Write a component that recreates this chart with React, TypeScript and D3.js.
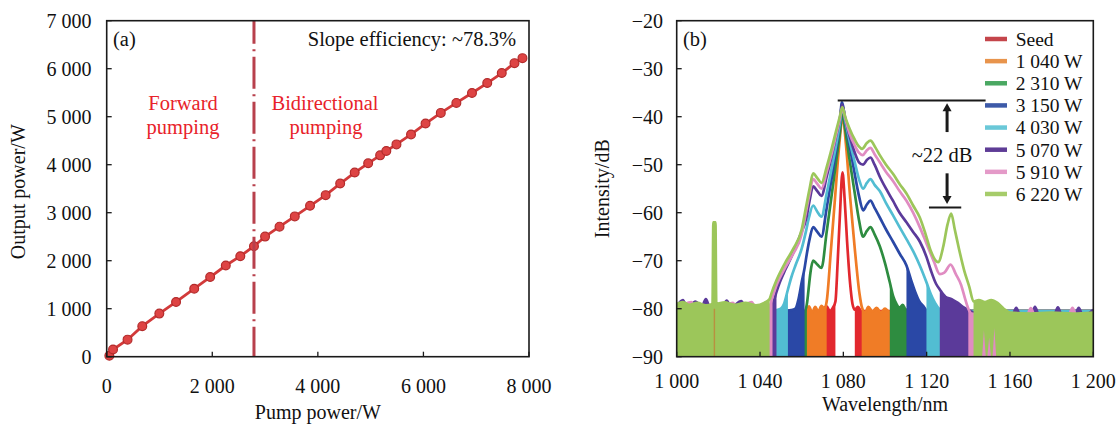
import * as d3 from 'd3'

// ---- panel (a): output power vs pump power ----
const pumpPower = [50, 120, 395, 674, 997, 1314, 1658, 1960, 2256, 2531, 2790, 3000, 3274, 3563, 3852, 4148, 4423, 4698, 4953, 5180, 5297, 5489, 5765, 6040, 6329, 6624, 6920, 7209, 7484, 7725, 7876]
const outputPower = [20, 150, 355, 636, 898, 1140, 1417, 1659, 1900, 2094, 2301, 2502, 2709, 2923, 3144, 3366, 3607, 3836, 4029, 4195, 4285, 4423, 4630, 4858, 5079, 5287, 5494, 5701, 5909, 6116, 6220]
const pumpTicks = [0, 2000, 4000, 6000, 8000]
const outputTicks = [0, 1000, 2000, 3000, 4000, 5000, 6000, 7000]
const boundaryPump = 2790

// ---- panel (b): spectra [wavelength nm, intensity dB] ----
const wlTicks = [1000, 1040, 1080, 1120, 1160, 1200]
const dbTicks = [-90, -80, -70, -60, -50, -40, -30, -20]
const seriesNames = ['Seed', '1 040 W', '2 310 W', '3 150 W', '4 030 W', '5 070 W', '5 910 W', '6 220 W']
const traceColors = ['#e2282e', '#f07c26', '#2e8c40', '#2a48a6', '#52bdd2', '#5b3a9a', '#e08cc2', '#9cc65a']
const legendColors = ['#c4454b', '#e8944c', '#4aa862', '#3d5aa8', '#6ac8d8', '#5e3c96', '#e49ac8', '#a6cc6a']

const seedTrace = [[1000, -80.5], [1030, -80.5], [1060, -80.5], [1065, -81], [1070, -80.2], [1072, -79.5], [1073.5, -80.5], [1075, -79.8], [1076.2, -78.5], [1077.3, -70], [1078.3, -61], [1079.6, -51.6], [1080.6, -57], [1081.8, -66], [1083.3, -75], [1084.4, -79], [1085.5, -80.2], [1087, -79.6], [1088.5, -80.5], [1100, -80.5], [1200, -80.5]]
const w1040Trace = [[1000, -80.5], [1050, -80.5], [1062, -80.5], [1063.5, -79.5], [1065, -80.8], [1066.5, -79.6], [1068, -80.6], [1069.5, -79.4], [1071, -80], [1072, -78.5], [1074, -68], [1076, -57], [1078, -46], [1079.7, -40], [1081.3, -46], [1083.3, -57], [1085.6, -68], [1087.8, -77], [1088.8, -79.5], [1090.5, -80.8], [1092, -79.6], [1094, -80.6], [1096, -79.8], [1098, -80.8], [1100, -80], [1102, -80.6], [1110, -80.5], [1200, -80.5]]
const w2310Trace = [[1000, -80.5], [1055, -80.5], [1061.5, -80.5], [1062.5, -79], [1063.3, -76], [1064.2, -72.5], [1065.5, -70], [1067.5, -70.8], [1069.5, -71.5], [1072, -64], [1074.5, -56], [1076.5, -49.5], [1078.3, -43.5], [1079.5, -39.2], [1081, -43], [1083, -49], [1085.5, -56], [1087.5, -61.5], [1089.5, -65], [1091.3, -63.8], [1093, -63], [1095, -64.5], [1097.5, -67], [1100, -70.5], [1102.3, -74.5], [1104, -77.5], [1105.5, -79], [1107, -79.8], [1108.5, -79.2], [1110, -80.2], [1115, -80.5], [1200, -80.5]]
const w3150Trace = [[1000, -80.5], [1050, -80.5], [1055, -80.3], [1057, -80], [1058.5, -78], [1060, -74.5], [1061.4, -71.5], [1062.5, -68.5], [1063.8, -65.5], [1065.5, -63], [1067.5, -64], [1069.5, -65], [1072, -59], [1074.5, -52.5], [1076.5, -47], [1078.3, -41.5], [1079.3, -37], [1081, -41], [1083, -46], [1085.5, -52], [1087.5, -56.5], [1089.5, -59.5], [1091.3, -58.3], [1093, -57.5], [1095, -59], [1097.5, -61], [1100.5, -63.5], [1103.8, -66], [1107, -68.5], [1110.3, -71], [1112.5, -74], [1114.5, -76.5], [1116.5, -78.5], [1118.5, -79.5], [1120, -80.3], [1125, -80.5], [1200, -80.5]]
const w4030Trace = [[1000, -80.5], [1045, -80.5], [1048, -80.3], [1050, -80], [1051.5, -79], [1053.4, -76], [1055, -73.5], [1057, -71], [1060, -67.5], [1062, -64], [1063.5, -61], [1065.5, -58.5], [1067.5, -59.8], [1069.5, -60.8], [1072, -56], [1074.5, -50.5], [1076.5, -46], [1078.3, -41.5], [1079.5, -37.8], [1081, -41], [1083, -45], [1085.5, -49.5], [1087.5, -53], [1089.5, -55], [1091.3, -53.8], [1093, -53], [1095, -54.2], [1097.5, -55.5], [1100.5, -58], [1103.8, -60.5], [1107, -63], [1110.3, -65.5], [1113.5, -68], [1116.7, -71], [1119.9, -74.5], [1122, -77], [1124, -78.8], [1126, -80], [1130, -80.5], [1200, -80.5]]
const w5070Trace = [[1000, -79.5], [1003, -78.2], [1005, -79.8], [1009, -78.5], [1012, -79.6], [1014, -78], [1016, -79.8], [1022, -79.5], [1024, -78.3], [1026, -79.7], [1031, -78.4], [1033, -79.8], [1038, -79.5], [1044.5, -79.5], [1046.5, -78.5], [1047.9, -76.5], [1049.5, -74.5], [1052, -72], [1055.8, -68.5], [1059, -65], [1062.3, -61], [1063.8, -57.5], [1065.5, -54.5], [1067.5, -55.5], [1069.5, -56.5], [1072, -52.5], [1074.5, -48], [1076.5, -44], [1078.3, -40.5], [1079.4, -37.5], [1081, -40.5], [1083, -44], [1085.5, -47.5], [1087.5, -49.5], [1089.5, -50], [1091.3, -49], [1093, -48.5], [1095, -50], [1097.5, -52.5], [1100.5, -55], [1103.8, -57.5], [1107, -60], [1110.3, -62], [1113.5, -64], [1116.7, -66], [1119.9, -69.2], [1122, -72], [1124.5, -74.8], [1126.3, -76], [1129, -77.5], [1132, -78], [1135, -78.8], [1138, -79.8], [1141, -80.5], [1150, -81.5], [1161, -81.5], [1163, -79.8], [1165, -81.5], [1170, -81.5], [1172, -79.6], [1174, -81.5], [1181, -81.5], [1183, -79.7], [1185, -81.5], [1191, -81.5], [1193, -79.8], [1195, -81.5], [1200, -80.2]]
const w5910Trace = [[1000, -80], [1007, -78.6], [1009, -80], [1020, -80], [1027, -78.8], [1029, -80], [1036, -78.6], [1038, -80], [1044, -80], [1046, -77.5], [1048, -75], [1052, -71.5], [1056, -68.5], [1060, -64.5], [1062, -60], [1063.8, -56], [1065.5, -53], [1067.5, -54], [1069.5, -55], [1072, -51.5], [1074.5, -47.5], [1076.5, -43.8], [1078.3, -40.5], [1079.5, -38.2], [1081, -40.5], [1083, -43.5], [1085.5, -46], [1087.5, -47.5], [1089.3, -48], [1091.3, -47], [1093, -46.5], [1095, -47.8], [1097.5, -49.5], [1100.5, -51.5], [1104, -53.5], [1107, -55.5], [1110.3, -57.5], [1113.5, -60], [1116.7, -63], [1120, -66.5], [1123.5, -70.2], [1126.3, -72.8], [1128.5, -72.5], [1131.5, -70.8], [1134, -72.8], [1136.5, -75], [1138.5, -78], [1140, -80], [1141.5, -81], [1150, -81.5], [1168, -81.5], [1170, -79.9], [1172, -81.5], [1188, -81.5], [1190, -79.8], [1192, -81.5], [1200, -81.5]]
const w6220Trace = [[1000, -79], [1003, -78.6], [1006, -79.2], [1010, -78.8], [1014, -79.3], [1017.2, -79], [1017.6, -62], [1018.6, -62], [1019, -79], [1023, -78.7], [1028, -79.2], [1033, -78.8], [1038, -79.3], [1042, -78.8], [1044.6, -78], [1045.5, -76.8], [1048, -74], [1052, -70.5], [1056, -67.5], [1060, -63.5], [1062, -59], [1063.8, -55], [1065.5, -51.8], [1067.5, -52.8], [1069.5, -53.8], [1072, -50.5], [1074.5, -46.5], [1076.5, -43], [1078.3, -40], [1079.5, -38], [1081, -40.2], [1083, -42.5], [1085.5, -44.8], [1087.5, -46.2], [1089, -46.7], [1091.3, -45.5], [1093, -45], [1095.5, -46.5], [1097.5, -48], [1100.5, -50], [1104, -52], [1107, -54], [1110.3, -56], [1113.5, -58.5], [1116.7, -61], [1119.5, -64.5], [1122, -68], [1125.5, -70.3], [1128, -67], [1130, -62.5], [1131.8, -60.2], [1133.5, -63.5], [1135.5, -67.5], [1138, -72], [1140.5, -75.5], [1142.5, -78.5], [1145, -78.2], [1148, -78.6], [1151, -78.2], [1154, -78.8], [1157, -80], [1160, -80.8], [1170, -81], [1180, -80.8], [1190, -81], [1200, -80.8]]

// wavelengths where each trace sinks into its noise floor (left, right)
const noiseEdges = [[1076.4, 1084.5], [1072, 1088.5], [1062.5, 1102.3], [1061.4, 1110.3], [1053.4, 1119.9], [1047.9, 1126.3], [1046, 1139], [1044.6, 1141.5]]
const traces = [seedTrace, w1040Trace, w2310Trace, w3150Trace, w4030Trace, w5070Trace, w5910Trace, w6220Trace]

// small spikes in the floor
const pinkSpikes = [[1147.5, -84.5], [1150, -86], [1152.5, -84]]
const leftSpikeWl = 1018.1

// annotation levels
const peakLevel = -36.6
const peakSpan = [1077.3, 1148.3]
const ramanLevel = -58.9
const ramanSpan = [1121.1, 1136.6]
const arrowWl = 1129.8
const arrowUp = [-43.2, -37.2]
const arrowDown = [-51.8, -58.2]

const TOP = 20.7
const BOTTOM = 356.7
const FONT = '"Liberation Serif", "Times New Roman", serif'

const xPump = d3.scaleLinear().domain([0, 8000]).range([106.7, 529])
const yOut = d3.scaleLinear().domain([0, 7000]).range([BOTTOM, TOP])
const xWl = d3.scaleLinear().domain([1000, 1200]).range([676.7, 1093.3])
const yDb = d3.scaleLinear().domain([-90, -20]).range([BOTTOM, TOP])

const fmt = (v: number) => {
  const s = String(Math.abs(v))
  const spaced = s.length > 3 ? s.slice(0, s.length - 3) + ' ' + s.slice(-3) : s
  return (v < 0 ? '\u2212' : '') + spaced
}

function PanelA() {
  const pts = pumpPower.map((p, i) => [p, outputPower[i]])
  const line = d3.line<number[]>().x(d => xPump(d[0])).y(d => yOut(d[1]))
  const [x0, x1] = xPump.range()
  return (
    <g>
      <path d={line(pts) || ''} fill="none" stroke="#d23a3a" strokeWidth={2.8} />
      {pts.map((d, i) => (
        <circle key={i} cx={xPump(d[0])} cy={yOut(d[1])} r={4.4} fill="#de4444" stroke="#b32b2b" strokeWidth={1.2} />
      ))}
      <line x1={xPump(boundaryPump)} x2={xPump(boundaryPump)} y1={TOP} y2={BOTTOM}
        stroke="#b8404c" strokeWidth={3} strokeDasharray="32 5.5 2 5.5" strokeDashoffset={9} />
      <rect x={x0} y={TOP} width={x1 - x0} height={BOTTOM - TOP} fill="none" stroke="#1a1a1a" strokeWidth={1.6} />
      {pumpTicks.map(t => (
        <g key={t}>
          <line x1={xPump(t)} x2={xPump(t)} y1={BOTTOM} y2={BOTTOM - 5} stroke="#1a1a1a" strokeWidth={1.3} />
          <text x={xPump(t)} y={393} textAnchor="middle" fontSize={20}>{fmt(t)}</text>
        </g>
      ))}
      {outputTicks.map(t => (
        <g key={t}>
          <line x1={x0} x2={x0 + 5} y1={yOut(t)} y2={yOut(t)} stroke="#1a1a1a" strokeWidth={1.3} />
          <text x={91.5} y={yOut(t)} dy="0.35em" textAnchor="end" fontSize={20}>{fmt(t)}</text>
        </g>
      ))}
      <text x={(x0 + x1) / 2} y={419} textAnchor="middle" fontSize={20}>Pump power/W</text>
      <text transform={`translate(25,${(TOP + BOTTOM) / 2 + 3}) rotate(-90)`} textAnchor="middle" fontSize={20}>Output power/W</text>
      <text x={113} y={46} fontSize={20.5}>(a)</text>
      <text x={516} y={46} textAnchor="end" fontSize={20.5}>Slope efficiency: ~78.3%</text>
      <text x={183} y={110} textAnchor="middle" fontSize={20.5} fill="#e8222a">Forward</text>
      <text x={183} y={134} textAnchor="middle" fontSize={20.5} fill="#e8222a">pumping</text>
      <text x={325} y={110} textAnchor="middle" fontSize={20.5} fill="#e8222a">Bidirectional</text>
      <text x={326} y={134} textAnchor="middle" fontSize={20.5} fill="#e8222a">pumping</text>
    </g>
  )
}

function PanelB() {
  const [x0, x1] = xWl.range()
  const line = d3.line<number[]>().x(d => xWl(d[0])).y(d => yDb(d[1])).curve(d3.curveMonotoneX)
  const ax = xWl(arrowWl)
  return (
    <g>
      <defs>
        <clipPath id="clipB"><rect x={x0} y={TOP} width={x1 - x0} height={BOTTOM - TOP} /></clipPath>
      </defs>
      <g clipPath="url(#clipB)">
        {traces.map((tr, i) => {
          const [fl, fr] = noiseEdges[i]
          const area = d3.area<number[]>()
            .defined(d => d[0] <= fl || d[0] >= fr)
            .x(d => xWl(d[0])).y0(yDb(-90)).y1(d => yDb(d[1]))
            .curve(d3.curveMonotoneX)
          return (
            <g key={i}>
              <path d={area(tr) || ''} fill={traceColors[i]} />
              <path d={line(tr) || ''} fill="none" stroke={traceColors[i]} strokeWidth={2.7} strokeLinejoin="round" />
            </g>
          )
        })}
        <line x1={xWl(leftSpikeWl)} x2={xWl(leftSpikeWl)} y1={yDb(-80)} y2={yDb(-90)} stroke="#b89040" strokeWidth={1.4} />
        {pinkSpikes.map((s, i) => (
          <path key={i} d={`M${xWl(s[0]) - 1.8},${yDb(-90)} L${xWl(s[0])},${yDb(s[1])} L${xWl(s[0]) + 1.8},${yDb(-90)} Z`} fill={traceColors[6]} />
        ))}
      </g>
      <rect x={x0} y={TOP} width={x1 - x0} height={BOTTOM - TOP} fill="none" stroke="#1a1a1a" strokeWidth={1.6} />
      {wlTicks.map(t => (
        <g key={t}>
          <line x1={xWl(t)} x2={xWl(t)} y1={BOTTOM} y2={BOTTOM - 5} stroke="#1a1a1a" strokeWidth={1.3} />
          <text x={xWl(t)} y={388} textAnchor="middle" fontSize={20}>{fmt(t)}</text>
        </g>
      ))}
      {dbTicks.map(t => (
        <g key={t}>
          <line x1={x0} x2={x0 + 5} y1={yDb(t)} y2={yDb(t)} stroke="#1a1a1a" strokeWidth={1.3} />
          <text x={663} y={yDb(t)} dy="0.35em" textAnchor="end" fontSize={20}>{fmt(t)}</text>
        </g>
      ))}
      <text x={(x0 + x1) / 2} y={411} textAnchor="middle" fontSize={20}>Wavelength/nm</text>
      <text transform={`translate(609,${(TOP + BOTTOM) / 2}) rotate(-90)`} textAnchor="middle" fontSize={20}>Intensity/dB</text>
      <text x={683} y={46} fontSize={20.5}>(b)</text>

      {/* ~22 dB annotation */}
      <line x1={xWl(peakSpan[0])} x2={xWl(peakSpan[1])} y1={yDb(peakLevel)} y2={yDb(peakLevel)} stroke="#1a1a1a" strokeWidth={2} />
      <line x1={xWl(ramanSpan[0])} x2={xWl(ramanSpan[1])} y1={yDb(ramanLevel)} y2={yDb(ramanLevel)} stroke="#1a1a1a" strokeWidth={2} />
      <line x1={ax} x2={ax} y1={yDb(arrowUp[0])} y2={yDb(arrowUp[1]) + 7} stroke="#1a1a1a" strokeWidth={3} />
      <path d={`M${ax - 4.5},${yDb(arrowUp[1]) + 8} L${ax},${yDb(arrowUp[1])} L${ax + 4.5},${yDb(arrowUp[1]) + 8} Z`} fill="#1a1a1a" />
      <line x1={ax} x2={ax} y1={yDb(arrowDown[0])} y2={yDb(arrowDown[1]) - 7} stroke="#1a1a1a" strokeWidth={3} />
      <path d={`M${ax - 4.5},${yDb(arrowDown[1]) - 8} L${ax},${yDb(arrowDown[1])} L${ax + 4.5},${yDb(arrowDown[1]) - 8} Z`} fill="#1a1a1a" />
      <text x={ax - 5} y={162} textAnchor="middle" fontSize={20.5}>~22 dB</text>

      {/* legend */}
      {seriesNames.map((n, i) => {
        const y = 39 + i * 22.14
        return (
          <g key={n}>
            <line x1={985} x2={1007} y1={y} y2={y} stroke={legendColors[i]} strokeWidth={4.5} />
            <text x={1015.7} y={y} dy="0.35em" fontSize={19.5}>{n}</text>
          </g>
        )
      })}
    </g>
  )
}

export default function App() {
  return (
    <svg width={1119} height={424} style={{ position: 'absolute', left: 0, top: 0, background: '#fff' }}
      fontFamily={FONT} fill="#111">
      <PanelA />
      <PanelB />
    </svg>
  )
}
